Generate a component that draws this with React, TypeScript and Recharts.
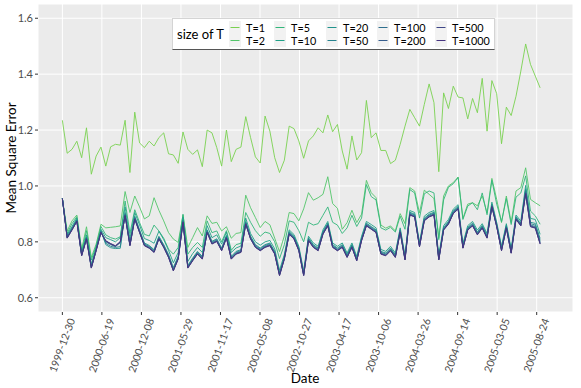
import React from 'react';
import { LineChart, Line, XAxis, YAxis, CartesianGrid } from 'recharts';

// one observation every 3 weeks, starting on the first tick date
const START_DATE = '1999-12-30';
const STEP_DAYS = 21;
const DAY_MS = 86400000;

const dateTicks = [
    '1999-12-30', '2000-06-19', '2000-12-08', '2001-05-29', '2001-11-17', '2002-05-08', '2002-10-27',
    '2003-04-17', '2003-10-06', '2004-03-26', '2004-09-14', '2005-03-05', '2005-08-24'
];
const yTicks = [0.6, 0.8, 1.0, 1.2, 1.4, 1.6];

const seriesNames = ['T=1', 'T=2', 'T=5', 'T=10', 'T=20', 'T=50', 'T=100', 'T=200', 'T=500', 'T=1000'];
const seriesColors = [
    '#7AD151', '#52C569', '#32B67A', '#1FA187', '#20928C',
    '#26828E', '#2E6F8E', '#365D8D', '#3F4788', '#463480'
];

const t1 = [
    1.235, 1.117, 1.131, 1.160, 1.101, 1.208, 1.042, 1.107, 1.139, 1.071,
    1.140, 1.149, 1.146, 1.235, 1.048, 1.264, 1.154, 1.137, 1.160, 1.143,
    1.173, 1.190, 1.115, 1.111, 1.081, 1.193, 1.131, 1.113, 1.129, 1.069,
    1.200, 1.190, 1.137, 1.071, 1.200, 1.087, 1.131, 1.139, 1.248, 1.173,
    1.104, 1.082, 1.250, 1.196, 1.101, 1.048, 1.092, 1.214, 1.205, 1.161,
    1.099, 1.161, 1.179, 1.208, 1.190, 1.254, 1.194, 1.220, 1.125, 1.060,
    1.179, 1.093, 1.119, 1.306, 1.173, 1.190, 1.127, 1.127, 1.080, 1.092,
    1.149, 1.214, 1.274, 1.244, 1.214, 1.292, 1.365, 1.298, 1.051, 1.333,
    1.277, 1.357, 1.318, 1.315, 1.240, 1.313, 1.262, 1.385, 1.196, 1.377,
    1.330, 1.151, 1.282, 1.252, 1.321, 1.411, 1.508, 1.435, 1.393, 1.351
];
const t2 = [
    0.955, 0.839, 0.875, 0.896, 0.774, 0.854, 0.744, 0.792, 0.863, 0.850,
    0.852, 0.854, 0.857, 0.980, 0.905, 0.964, 0.925, 0.882, 0.893, 0.958,
    0.913, 0.875, 0.833, 0.810, 0.798, 0.895, 0.780, 0.815, 0.851, 0.821,
    0.893, 0.866, 0.870, 0.839, 0.854, 0.813, 0.830, 0.833, 0.967, 0.922,
    0.887, 0.851, 0.873, 0.861, 0.813, 0.765, 0.821, 0.905, 0.901, 0.875,
    0.918, 0.976, 0.949, 0.958, 0.970, 1.033, 0.937, 0.920, 0.845, 0.869,
    0.913, 0.869, 0.899, 1.020, 0.976, 0.958, 0.860, 0.849, 0.857, 0.839,
    0.901, 0.865, 0.994, 0.982, 0.904, 0.985, 0.970, 0.955, 0.815, 0.964,
    1.000, 1.012, 1.032, 0.884, 0.935, 0.940, 0.929, 0.964, 0.904, 1.027,
    0.952, 0.869, 0.964, 0.869, 0.982, 0.994, 1.065, 0.952, 0.940, 0.929
];
const t5 = [
    0.955, 0.830, 0.865, 0.890, 0.765, 0.840, 0.735, 0.785, 0.855, 0.825,
    0.815, 0.810, 0.818, 0.946, 0.830, 0.915, 0.869, 0.827, 0.821, 0.860,
    0.839, 0.813, 0.774, 0.756, 0.780, 0.899, 0.756, 0.780, 0.798, 0.780,
    0.875, 0.833, 0.839, 0.800, 0.840, 0.770, 0.790, 0.795, 0.905, 0.870,
    0.840, 0.820, 0.835, 0.830, 0.800, 0.740, 0.790, 0.875, 0.870, 0.840,
    0.800, 0.870, 0.860, 0.865, 0.895, 0.925, 0.870, 0.860, 0.830, 0.850,
    0.895, 0.855, 0.885, 1.005, 0.962, 0.950, 0.850, 0.842, 0.852, 0.835,
    0.892, 0.845, 0.987, 0.975, 0.885, 0.972, 0.982, 0.975, 0.808, 0.950,
    0.995, 1.008, 1.030, 0.880, 0.928, 0.940, 0.915, 0.975, 0.897, 1.020,
    0.935, 0.872, 0.955, 0.862, 0.960, 0.975, 1.036, 0.910, 0.893, 0.863
];
const t10 = [
    0.955, 0.825, 0.855, 0.885, 0.762, 0.825, 0.720, 0.780, 0.845, 0.815,
    0.808, 0.800, 0.815, 0.925, 0.812, 0.905, 0.860, 0.812, 0.805, 0.795,
    0.838, 0.808, 0.770, 0.725, 0.762, 0.888, 0.730, 0.758, 0.780, 0.762,
    0.858, 0.815, 0.825, 0.792, 0.835, 0.762, 0.778, 0.785, 0.885, 0.830,
    0.800, 0.788, 0.800, 0.805, 0.775, 0.698, 0.755, 0.843, 0.826, 0.784,
    0.696, 0.820, 0.796, 0.784, 0.843, 0.873, 0.796, 0.784, 0.796, 0.760,
    0.796, 0.748, 0.820, 0.873, 0.862, 0.850, 0.773, 0.766, 0.784, 0.760,
    0.850, 0.752, 0.912, 0.905, 0.798, 0.892, 0.905, 0.912, 0.752, 0.858,
    0.880, 0.917, 0.933, 0.794, 0.858, 0.873, 0.842, 0.865, 0.830, 0.942,
    0.870, 0.785, 0.865, 0.776, 0.896, 0.874, 1.002, 0.884, 0.880, 0.827
];
const t20 = [
    0.955, 0.820, 0.850, 0.880, 0.757, 0.818, 0.714, 0.775, 0.840, 0.790,
    0.779, 0.776, 0.777, 0.905, 0.795, 0.892, 0.843, 0.796, 0.787, 0.772,
    0.820, 0.790, 0.755, 0.708, 0.749, 0.878, 0.716, 0.742, 0.766, 0.748,
    0.843, 0.802, 0.811, 0.778, 0.823, 0.748, 0.766, 0.772, 0.873, 0.820,
    0.790, 0.778, 0.790, 0.796, 0.766, 0.689, 0.748, 0.837, 0.820, 0.778,
    0.689, 0.814, 0.790, 0.778, 0.837, 0.867, 0.790, 0.778, 0.790, 0.754,
    0.790, 0.742, 0.814, 0.867, 0.855, 0.843, 0.766, 0.760, 0.778, 0.754,
    0.844, 0.745, 0.906, 0.899, 0.792, 0.885, 0.899, 0.906, 0.745, 0.852,
    0.873, 0.911, 0.927, 0.787, 0.852, 0.867, 0.835, 0.859, 0.823, 0.935,
    0.864, 0.778, 0.859, 0.769, 0.890, 0.867, 0.990, 0.870, 0.866, 0.812
];
const t50 = [
    0.955, 0.818, 0.847, 0.878, 0.755, 0.815, 0.711, 0.773, 0.838, 0.795,
    0.784, 0.780, 0.783, 0.900, 0.792, 0.888, 0.840, 0.793, 0.784, 0.769,
    0.817, 0.787, 0.751, 0.704, 0.745, 0.875, 0.713, 0.739, 0.763, 0.745,
    0.840, 0.799, 0.808, 0.775, 0.820, 0.745, 0.763, 0.769, 0.870, 0.817,
    0.787, 0.775, 0.787, 0.793, 0.763, 0.686, 0.745, 0.834, 0.817, 0.775,
    0.686, 0.811, 0.787, 0.775, 0.834, 0.864, 0.787, 0.775, 0.787, 0.751,
    0.787, 0.739, 0.811, 0.864, 0.852, 0.840, 0.763, 0.757, 0.775, 0.751,
    0.841, 0.742, 0.903, 0.896, 0.789, 0.882, 0.896, 0.903, 0.742, 0.849,
    0.870, 0.908, 0.924, 0.784, 0.849, 0.864, 0.832, 0.856, 0.820, 0.932,
    0.861, 0.775, 0.856, 0.766, 0.887, 0.864, 0.984, 0.865, 0.860, 0.805
];
const t100 = [
    0.955, 0.816, 0.845, 0.876, 0.753, 0.813, 0.709, 0.771, 0.836, 0.800,
    0.790, 0.783, 0.797, 0.897, 0.789, 0.885, 0.837, 0.790, 0.781, 0.766,
    0.814, 0.784, 0.748, 0.700, 0.742, 0.873, 0.710, 0.736, 0.760, 0.742,
    0.837, 0.796, 0.805, 0.772, 0.817, 0.742, 0.760, 0.766, 0.867, 0.814,
    0.784, 0.772, 0.784, 0.790, 0.760, 0.683, 0.742, 0.831, 0.814, 0.772,
    0.683, 0.808, 0.784, 0.772, 0.831, 0.861, 0.784, 0.772, 0.784, 0.748,
    0.784, 0.736, 0.808, 0.861, 0.849, 0.837, 0.760, 0.754, 0.772, 0.748,
    0.838, 0.739, 0.900, 0.893, 0.786, 0.879, 0.893, 0.900, 0.739, 0.846,
    0.867, 0.905, 0.921, 0.781, 0.846, 0.861, 0.829, 0.853, 0.817, 0.929,
    0.858, 0.772, 0.853, 0.763, 0.884, 0.861, 0.979, 0.860, 0.855, 0.799
];
const t200 = [
    0.955, 0.815, 0.844, 0.875, 0.752, 0.812, 0.708, 0.770, 0.835, 0.802,
    0.792, 0.784, 0.799, 0.895, 0.788, 0.883, 0.835, 0.788, 0.779, 0.764,
    0.812, 0.782, 0.746, 0.698, 0.740, 0.871, 0.708, 0.734, 0.758, 0.740,
    0.835, 0.794, 0.803, 0.770, 0.815, 0.740, 0.758, 0.764, 0.865, 0.812,
    0.782, 0.770, 0.782, 0.788, 0.758, 0.681, 0.740, 0.829, 0.812, 0.770,
    0.681, 0.806, 0.782, 0.770, 0.829, 0.859, 0.782, 0.770, 0.782, 0.746,
    0.782, 0.734, 0.806, 0.859, 0.847, 0.835, 0.758, 0.752, 0.770, 0.746,
    0.836, 0.737, 0.898, 0.891, 0.784, 0.877, 0.891, 0.898, 0.737, 0.844,
    0.865, 0.903, 0.919, 0.779, 0.844, 0.859, 0.827, 0.851, 0.815, 0.927,
    0.856, 0.770, 0.851, 0.761, 0.882, 0.859, 0.975, 0.857, 0.852, 0.795
];
const t500 = [
    0.955, 0.814, 0.843, 0.874, 0.751, 0.811, 0.707, 0.769, 0.834, 0.803,
    0.793, 0.785, 0.800, 0.894, 0.787, 0.882, 0.834, 0.787, 0.778, 0.763,
    0.811, 0.781, 0.745, 0.697, 0.739, 0.870, 0.707, 0.733, 0.757, 0.739,
    0.834, 0.793, 0.802, 0.769, 0.814, 0.739, 0.757, 0.763, 0.864, 0.811,
    0.781, 0.769, 0.781, 0.787, 0.757, 0.680, 0.739, 0.828, 0.811, 0.769,
    0.680, 0.805, 0.781, 0.769, 0.828, 0.858, 0.781, 0.769, 0.781, 0.745,
    0.781, 0.733, 0.805, 0.858, 0.846, 0.834, 0.757, 0.751, 0.769, 0.745,
    0.835, 0.736, 0.897, 0.890, 0.783, 0.876, 0.890, 0.897, 0.736, 0.843,
    0.864, 0.902, 0.918, 0.778, 0.843, 0.858, 0.826, 0.850, 0.814, 0.926,
    0.855, 0.769, 0.850, 0.760, 0.881, 0.858, 0.973, 0.855, 0.850, 0.793
];
const t1000 = [
    0.955, 0.813, 0.842, 0.873, 0.750, 0.810, 0.706, 0.768, 0.833, 0.804,
    0.794, 0.786, 0.801, 0.893, 0.786, 0.881, 0.833, 0.786, 0.777, 0.762,
    0.810, 0.780, 0.744, 0.696, 0.738, 0.869, 0.706, 0.732, 0.756, 0.738,
    0.833, 0.792, 0.801, 0.768, 0.813, 0.738, 0.756, 0.762, 0.863, 0.810,
    0.780, 0.768, 0.780, 0.786, 0.756, 0.679, 0.738, 0.827, 0.810, 0.768,
    0.679, 0.804, 0.780, 0.768, 0.827, 0.857, 0.780, 0.768, 0.780, 0.744,
    0.780, 0.732, 0.804, 0.857, 0.845, 0.833, 0.756, 0.750, 0.768, 0.744,
    0.834, 0.735, 0.896, 0.889, 0.782, 0.875, 0.889, 0.896, 0.735, 0.842,
    0.863, 0.901, 0.917, 0.777, 0.842, 0.857, 0.825, 0.849, 0.813, 0.925,
    0.854, 0.768, 0.849, 0.759, 0.880, 0.857, 0.972, 0.854, 0.849, 0.792
];

const seriesValues = [t1, t2, t5, t10, t20, t50, t100, t200, t500, t1000];

const startMs = Date.parse(START_DATE);
const chartData = t1.map((_, i) => {
    const row: Record<string, number> = { date: startMs + i * STEP_DAYS * DAY_MS };
    seriesNames.forEach((name, s) => {
        row[name] = seriesValues[s][i];
    });
    return row;
});

const FONT = 'Lato, "Open Sans", sans-serif';

function DateTick(props: any) {
    const { x, y, payload } = props;
    const label = new Date(payload.value).toISOString().slice(0, 10);
    const ax = x + 13;
    const ay = y + 3;
    return (
        <text
            x={ax}
            y={ay}
            transform={`rotate(-70 ${ax} ${ay})`}
            textAnchor="end"
            fill="#4D4D4D"
            fontSize={10.5}
            fontFamily={FONT}
        >
            {label}
        </text>
    );
}

// legend columns: key left edge in px, relative to the legend box
const legendCols = [56, 101, 153, 204, 262];
const ROW_H = 13;

function LegendBox() {
    return (
        <div
            style={{
                position: 'absolute',
                left: 172,
                top: 18,
                width: 323,
                height: 32,
                boxSizing: 'border-box',
                background: '#fff',
                border: '1px solid #d4d4d4',
                borderBottom: '1px solid #555',
                fontFamily: FONT,
                color: '#000'
            }}
        >
            <div style={{ position: 'absolute', left: 4, top: 7, fontSize: 13, lineHeight: '16px' }}>size of T</div>
            {seriesNames.map((name, i) => {
                const col = Math.floor(i / 2);
                const row = i % 2;
                const left = legendCols[col];
                const top = 2 + row * ROW_H;
                return (
                    <React.Fragment key={name}>
                        <svg
                            width={12}
                            height={ROW_H}
                            style={{ position: 'absolute', left, top, display: 'block' }}
                        >
                            <rect x={0} y={0} width={12} height={ROW_H} fill="#F2F2F2" />
                            <line x1={1.5} x2={10.5} y1={6.5} y2={6.5} stroke={seriesColors[i]} strokeWidth={1} />
                        </svg>
                        <div style={{ position: 'absolute', left: left + 17, top, height: ROW_H, fontSize: 10.8, lineHeight: `${ROW_H}px`, whiteSpace: 'nowrap' }}>
                            {name}
                        </div>
                    </React.Fragment>
                );
            })}
        </div>
    );
}

export default function App() {
    return (
        <div style={{ position: 'absolute', left: 0, top: 0, width: 581, height: 388, background: '#fff', fontFamily: FONT }}>
            <LineChart width={581} height={388} data={chartData} margin={{ top: 4, right: 8, bottom: 0, left: 0 }}>
                <CartesianGrid fill="#EBEBEB" stroke="#FFFFFF" strokeWidth={1} />
                <XAxis
                    dataKey="date"
                    type="number"
                    domain={[startMs - 106 * DAY_MS, startMs + 2222 * DAY_MS]}
                    allowDataOverflow
                    ticks={dateTicks.map((d) => Date.parse(d))}
                    interval={0}
                    tick={<DateTick />}
                    tickSize={3}
                    tickLine={{ stroke: '#333333' }}
                    axisLine={false}
                    height={76}
                />
                <YAxis
                    type="number"
                    domain={[0.549, 1.651]}
                    allowDataOverflow
                    ticks={yTicks}
                    interval={0}
                    tickFormatter={(v: number) => v.toFixed(1)}
                    tick={{ fill: '#4D4D4D', fontSize: 11, fontFamily: FONT }}
                    tickSize={3}
                    tickMargin={2}
                    tickLine={{ stroke: '#333333' }}
                    axisLine={false}
                    width={38}
                />
                {seriesNames.map((name, i) => (
                    <Line
                        key={name}
                        type="linear"
                        dataKey={name}
                        stroke={seriesColors[i]}
                        strokeWidth={1}
                        strokeOpacity={0.9}
                        dot={false}
                        activeDot={false}
                        isAnimationActive={false}
                    />
                ))}
            </LineChart>
            <div
                style={{
                    position: 'absolute',
                    left: 11,
                    top: 158,
                    transform: 'translate(-50%, -50%) rotate(-90deg)',
                    fontSize: 13.5,
                    whiteSpace: 'nowrap',
                    color: '#000'
                }}
            >
                Mean Square Error
            </div>
            <div
                style={{
                    position: 'absolute',
                    left: 305,
                    top: 378,
                    transform: 'translate(-50%, -50%)',
                    fontSize: 13.5,
                    whiteSpace: 'nowrap',
                    color: '#000'
                }}
            >
                Date
            </div>
            <LegendBox />
        </div>
    );
}
